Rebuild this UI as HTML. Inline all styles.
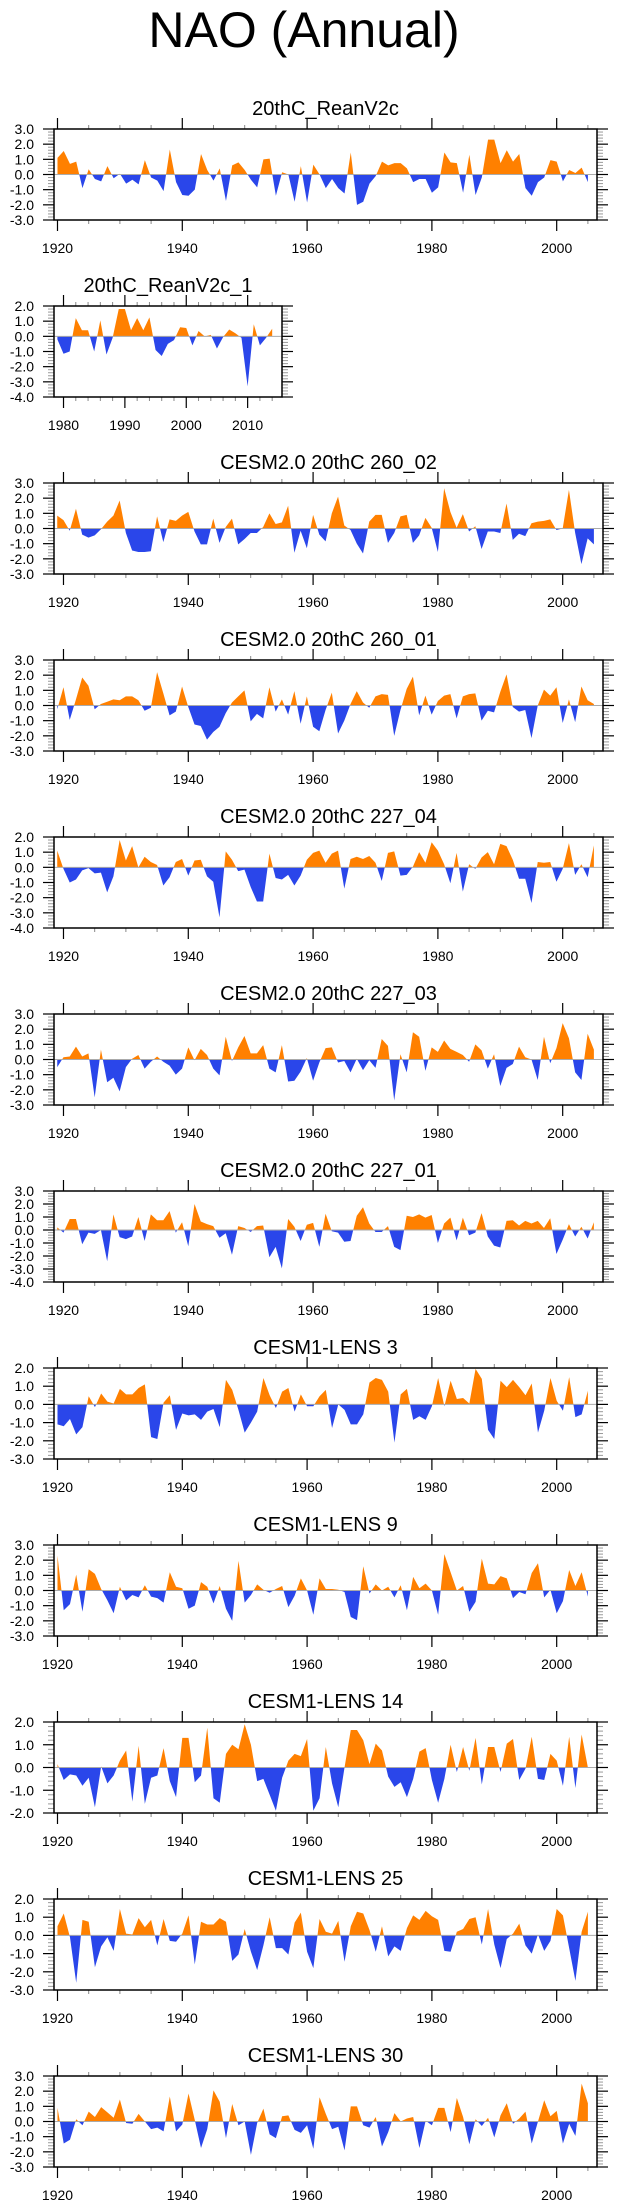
<!DOCTYPE html>
<html><head><meta charset="utf-8"><style>
html,body{margin:0;padding:0;background:#fff;}
svg{display:block;font-family:"Liberation Sans",Arial,sans-serif;}
</style></head><body>
<svg id="chart" width="623" height="2209" viewBox="0 0 623 2209" xmlns="http://www.w3.org/2000/svg">
<text x="304" y="47" font-size="50" text-anchor="middle" fill="#000">NAO (Annual)</text>
</svg>
<script>
const reanV2c = [1.1,1.55,0.7,0.85,-0.9,0.35,-0.3,-0.45,0.55,-0.25,0.05,-0.6,-0.35,-0.65,0.95,-0.2,-0.4,-1.1,1.65,-0.5,-1.35,-1.4,-1.0,1.35,0.3,-0.4,0.4,-1.75,0.6,0.8,0.3,-0.35,-0.85,1.0,1.05,-1.4,0.15,0.0,-1.8,0.55,-1.85,0.65,0.0,-0.9,-0.3,-0.9,-1.25,1.45,-2.0,-1.8,-0.6,-0.1,0.85,0.6,0.75,0.75,0.4,-0.5,-0.3,-0.3,-1.2,-0.85,1.45,0.8,0.75,-1.2,1.3,-1.35,-0.2,2.3,2.3,0.75,1.6,0.85,1.35,-0.9,-1.4,-0.5,-0.2,0.95,0.85,-0.45,0.3,0.1,0.45,-0.5];
const reanV2c1 = [-0.2,-1.15,-1.0,1.2,0.4,0.4,-1.0,1.05,-1.2,-0.1,1.8,1.8,0.4,1.2,0.4,1.25,-0.9,-1.3,-0.5,-0.25,0.6,0.55,-0.6,0.35,0.0,0.1,-0.8,-0.05,0.45,0.2,-0.1,-3.3,0.8,-0.6,-0.1,0.5];
const cesm2_260_02 = [0.85,0.55,-0.15,1.3,-0.4,-0.6,-0.45,-0.05,0.45,0.85,1.85,-0.3,-1.45,-1.55,-1.55,-1.5,0.8,-0.9,0.6,0.5,0.85,1.1,-0.2,-1.05,-1.05,0.65,-0.95,0.1,0.65,-1.05,-0.7,-0.3,-0.3,0.1,1.0,0.3,0.4,1.5,-1.6,-0.15,-1.3,0.9,-0.4,-0.85,1.0,2.1,0.2,-0.1,-1.0,-1.65,0.45,0.9,0.9,-0.95,-0.3,0.8,0.9,-0.95,-0.45,0.7,0.05,-1.55,2.65,1.1,0.05,0.95,-0.2,0.15,-1.35,-0.2,-0.2,-0.3,1.65,-0.75,-0.35,-0.5,0.35,0.45,0.5,0.6,-0.1,0.0,2.55,-0.3,-2.35,-0.65,-1.05];
const cesm2_260_01 = [-0.25,1.2,-0.95,0.4,1.85,1.3,-0.25,0.1,0.25,0.4,0.35,0.6,0.6,0.35,-0.35,-0.15,2.2,0.8,-0.65,-0.4,1.25,-0.1,-1.25,-1.35,-2.25,-1.75,-1.4,-0.5,0.2,0.6,1.0,-1.05,-0.55,-0.85,1.2,-0.4,0.4,-0.6,0.95,-1.2,0.6,-1.4,-1.7,-0.3,0.85,-1.85,-1.0,0.1,0.95,0.2,-0.15,0.6,0.75,0.7,-2.0,-0.3,1.1,1.9,-0.65,0.65,-0.6,0.3,0.65,0.75,-0.85,0.6,0.75,0.8,-1.0,-0.35,-0.45,0.9,2.05,-0.1,-0.4,-0.3,-2.15,0.0,1.05,0.65,1.2,-1.15,0.4,-1.1,1.25,0.35,0.1];
const cesm2_227_04 = [1.1,-0.1,-1.0,-0.8,-0.2,-0.05,-0.4,-0.35,-1.65,-0.6,1.8,0.45,1.4,0.0,0.7,0.35,0.15,-1.2,-0.65,0.35,0.55,-0.55,0.45,0.5,-0.6,-0.95,-3.3,1.05,0.5,-0.25,-0.15,-1.3,-2.25,-2.25,0.9,-0.7,-0.8,-0.5,-1.2,-0.55,0.5,0.95,1.1,0.3,0.9,1.1,-1.4,0.55,0.7,0.55,0.75,0.3,-0.9,0.95,1.05,-0.55,-0.5,0.05,1.0,0.3,1.65,1.1,0.2,-1.05,0.95,-1.6,0.2,-0.1,0.65,1.0,0.2,1.55,1.4,0.5,-0.75,-0.75,-2.35,0.35,0.3,0.35,-0.95,-0.1,1.6,-0.5,0.2,-0.65,1.45];
const cesm2_227_03 = [-0.5,0.15,0.2,0.85,0.2,0.4,-2.5,0.65,-1.5,-1.2,-2.1,-0.5,0.05,0.3,-0.6,-0.15,0.2,-0.15,-0.4,-1.0,-0.6,0.8,-0.05,0.7,0.3,-0.6,-1.05,1.5,-0.1,0.8,1.55,0.4,0.4,0.95,-0.6,-0.85,0.95,-1.45,-1.4,-0.8,0.1,-1.4,-0.2,0.75,0.8,-0.2,-0.1,-0.85,0.05,-0.7,-0.05,-0.55,1.35,0.9,-2.7,0.35,-0.85,1.8,1.5,-0.75,0.8,0.5,1.25,0.7,0.5,0.3,-0.15,1.0,0.6,-0.6,0.35,-1.75,-0.55,-0.3,0.85,0.15,0.0,-1.35,1.5,-0.25,0.75,2.4,1.4,-0.85,-1.35,1.7,0.65];
const cesm2_227_01 = [0.2,-0.2,0.85,0.85,-1.1,-0.2,-0.3,0.0,-2.4,1.2,-0.55,-0.7,-0.5,1.0,-0.85,1.2,0.75,0.75,1.45,-0.2,0.6,-1.25,2.0,0.65,0.45,0.3,-0.6,-0.25,-1.9,0.3,0.15,-0.15,0.3,0.35,-2.1,-1.3,-2.95,0.85,0.25,-0.85,0.4,0.55,-1.3,1.25,-0.1,-0.2,-0.9,-0.85,1.1,1.75,0.5,-0.15,-0.15,0.3,-1.3,-1.55,1.1,1.0,1.2,0.95,1.15,-1.0,0.5,0.95,-0.8,0.95,-0.4,-0.2,1.3,-0.5,-1.2,-1.35,0.7,0.75,0.35,0.7,0.5,0.7,0.15,0.9,-1.85,-0.75,0.45,-0.5,0.25,-0.65,0.6];
const lens3 = [-1.1,-1.2,-0.8,-1.65,-1.25,0.45,-0.15,0.6,0.15,0.05,0.85,0.55,0.55,0.9,1.1,-1.8,-1.9,0.1,0.5,-1.4,-0.5,-0.6,-0.55,-0.85,-0.4,-0.25,-1.25,1.35,0.8,-0.3,-1.55,-1.0,-0.4,1.45,0.5,-0.2,0.7,0.9,-0.4,0.55,-0.1,-0.1,0.45,0.8,-1.3,0.0,-0.3,-1.1,-1.1,-0.55,1.2,1.45,1.35,0.7,-2.1,0.55,0.85,-0.85,-0.65,-0.85,-0.1,1.45,-0.1,1.3,0.3,0.35,0.05,1.95,1.4,-1.4,-1.9,1.3,0.95,1.35,0.95,0.5,1.15,-1.55,-0.35,1.45,0.2,-0.35,1.5,-0.7,-0.55,0.75];
const lens9 = [2.3,-1.3,-0.9,1.05,-1.4,1.4,1.1,0.1,-0.65,-1.5,0.25,-0.65,-0.3,-0.45,0.35,-0.4,-0.5,-0.8,1.2,0.25,0.15,-1.2,-1.0,0.55,0.25,-0.85,0.3,-1.2,-2.0,1.95,-0.8,-0.3,0.4,0.05,-0.15,0.1,0.3,-1.1,-0.35,0.8,0.0,-1.6,0.8,0.1,0.1,0.05,-0.1,-1.75,-1.95,1.6,-0.2,0.4,0.0,0.25,-0.45,0.35,-1.3,0.9,0.15,0.45,0.0,-1.6,2.4,1.2,0.0,0.3,-1.4,-0.75,2.1,0.45,0.4,0.95,0.8,-0.5,-0.1,-0.25,1.15,1.8,-0.45,0.05,-1.5,-0.7,1.35,0.3,1.2,-0.4];
const lens14 = [0.15,-0.55,-0.3,-0.35,-0.8,-0.45,-1.75,0.05,-0.7,-0.35,0.3,0.75,-1.5,0.95,-1.6,-0.45,-0.35,0.85,-0.6,-1.3,1.3,1.3,-0.65,-0.35,1.75,-1.35,-1.55,0.6,1.0,0.8,1.9,1.0,-0.6,-0.5,-1.2,-1.9,-0.45,0.3,0.6,0.5,1.25,-1.9,-1.35,0.9,-0.7,-1.75,0.0,1.65,1.65,1.2,0.15,1.05,0.75,-0.4,-0.85,-0.65,-1.3,-0.5,0.7,0.85,-0.55,-1.55,-0.5,1.0,-0.2,0.9,-0.15,1.3,-0.75,0.9,0.9,-0.2,1.05,1.25,-0.55,-0.05,1.35,-0.5,-0.55,0.6,0.3,-0.8,1.35,-0.9,1.45,0.0];
const lens25 = [0.5,1.2,-0.1,-2.6,0.85,0.75,-1.75,-0.6,-0.1,-0.85,1.45,0.1,0.05,0.95,0.45,0.85,-0.55,0.9,-0.3,-0.35,0.1,1.1,-1.6,0.75,0.6,0.6,0.95,0.75,-1.4,-1.05,0.35,-0.9,-1.9,-0.55,1.0,-0.7,-0.7,-1.05,0.7,1.25,-0.9,-1.8,0.9,0.2,0.1,0.8,-1.45,0.5,1.3,1.2,0.3,-0.9,0.5,-1.15,-0.6,-0.85,0.4,1.1,0.85,1.35,1.05,0.85,-0.85,-0.9,0.2,0.35,0.9,1.0,-0.5,1.45,-0.5,-1.8,-0.2,0.1,0.65,-0.55,-1.0,0.05,-0.85,-0.3,1.45,1.1,-0.7,-2.5,0.2,1.3];
const lens30 = [0.9,-1.45,-1.2,0.15,-0.25,0.65,0.3,0.95,0.6,0.25,1.45,-0.1,-0.15,0.5,0.0,-0.5,-0.4,-0.65,1.65,-0.65,-0.2,1.85,0.1,-1.75,-0.5,2.05,1.3,-1.1,1.15,-0.25,0.0,-2.2,-0.1,0.85,-0.85,-1.1,0.35,0.4,-0.55,-0.75,-0.25,-1.8,1.6,0.5,-0.5,-0.35,-1.9,1.0,1.0,-0.25,-0.4,0.3,-1.65,-0.7,0.55,0.0,0.2,0.3,-1.75,0.05,-0.25,0.9,0.9,-0.7,1.55,0.3,-1.5,0.15,-0.3,0.25,-1.05,0.4,1.2,-0.15,0.2,0.65,-1.45,0.0,1.4,0.35,0.7,-1.45,-0.15,-0.95,2.5,1.2];

const panelTitles = ["20thC_ReanV2c","20thC_ReanV2c_1","CESM2.0 20thC 260_02","CESM2.0 20thC 260_01","CESM2.0 20thC 227_04","CESM2.0 20thC 227_03","CESM2.0 20thC 227_01","CESM1-LENS 3","CESM1-LENS 9","CESM1-LENS 14","CESM1-LENS 25","CESM1-LENS 30"];
const panelSeries = [reanV2c,reanV2c1,cesm2_260_02,cesm2_260_01,cesm2_227_04,cesm2_227_03,cesm2_227_01,lens3,lens9,lens14,lens25,lens30];
const startYears = [1920,1979,1919,1919,1919,1919,1919,1920,1920,1920,1920,1920];
const yMins = [-3,-4,-3,-3,-4,-3,-4,-3,-3,-2,-3,-3];
const yMaxs = [3,2,3,3,2,3,3,2,3,2,2,3];

const NS="http://www.w3.org/2000/svg";
const svg=document.getElementById('chart');
function mk(tag,attrs,parent){const e=document.createElementNS(NS,tag);for(const k in attrs)e.setAttribute(k,attrs[k]);(parent||svg).appendChild(e);return e;}

panelSeries.forEach((data,i)=>{
  const top=129+i*177, h=91, bot=top+h, left=54;
  const type = i===1?'short':(startYears[i]===1919?'cesm2':'lens');
  const right = type==='short'?282:(type==='cesm2'?603:597);
  const x0yr = type==='short'?1978.45:(type==='cesm2'?1918.48:1919.44);
  const x1yr = type==='short'?2015.6:2006.46;
  const xs=yr=>left+(yr-x0yr)/(x1yr-x0yr)*(right-left);
  const ys=v=>top+(yMaxs[i]-v)/(yMaxs[i]-yMins[i])*h;
  const g=mk('g',{});
  
  
  const cx=(left+right)/2;
  const t=mk('text',{x:cx,y:top-14,'font-size':20,'text-anchor':'middle',fill:'#000'},g);
  t.textContent=panelTitles[i];
  
  
  const y0=ys(0);
  let pts=[[xs(startYears[i]),y0]];
  data.forEach((v,k)=>pts.push([xs(startYears[i]+k),ys(v)]));
  pts.push([xs(startYears[i]+data.length-1),y0]);
  const d='M'+pts.map(p=>p[0].toFixed(2)+','+p[1].toFixed(2)).join('L')+'Z';
  const cid='c'+i;
  const defs=mk('defs',{},g);
  const cpA=mk('clipPath',{id:cid+'a'},defs); mk('rect',{x:left,y:top,width:right-left,height:y0-top},cpA);
  const cpB=mk('clipPath',{id:cid+'b'},defs); mk('rect',{x:left,y:y0,width:right-left,height:bot-y0},cpB);
  const pa=mk('path',{d:d,fill:'#ff8000','clip-path':'url(#'+cid+'a)'},g);
  
  
  const pb=mk('path',{d:d,fill:'#2a46ea','clip-path':'url(#'+cid+'b)'},g);
  
  
  const zl=mk('line',{x1:left,x2:right,y1:y0,y2:y0,stroke:'#aaa','stroke-width':1},g);
  
  
  // y ticks
  for(let v=yMins[i];v<=yMaxs[i]+1e-9;v+=0.2){
    const yy=ys(v); const major=Math.abs(v-Math.round(v))<1e-6;
    if(major){
      mk('line',{x1:43,x2:left,y1:yy,y2:yy,stroke:'#000','stroke-width':1.2},g);
      mk('line',{x1:right,x2:right+11,y1:yy,y2:yy,stroke:'#000','stroke-width':1.2},g);
      const lb=mk('text',{x:34,y:yy+5,'font-size':14,'text-anchor':'end',fill:'#000'},g);
      lb.textContent=Math.round(v).toFixed(1);
      
      
    } else {
      mk('line',{x1:48,x2:left,y1:yy,y2:yy,stroke:'#999','stroke-width':1},g);
      mk('line',{x1:right,x2:right+6,y1:yy,y2:yy,stroke:'#999','stroke-width':1},g);
    }
  }
  // x ticks
  const majStep=type==='short'?10:20, minStep=type==='short'?2:5;
  const ya=Math.ceil(x0yr), yb=Math.floor(x1yr);
  for(let yr=ya;yr<=yb;yr++){
    if(yr%minStep!==0 && yr%majStep!==0) continue;
    const xx=xs(yr); const major=yr%majStep===0; const L=major?11:4;
    mk('line',{x1:xx,x2:xx,y1:top,y2:top-L,stroke:major?'#000':'#888','stroke-width':major?1.2:1},g);
    mk('line',{x1:xx,x2:xx,y1:bot,y2:bot+L,stroke:major?'#000':'#888','stroke-width':major?1.2:1},g);
    if(major){
      const lb=mk('text',{x:xx,y:bot+33,'font-size':14,'text-anchor':'middle',fill:'#000'},g);
      lb.textContent=yr;
      
      
    }
  }
  const fr=mk('rect',{x:left,y:top,width:right-left,height:h,fill:'none',stroke:'#000','stroke-width':1.5},g);
  
  
});
</script>
</body></html>
